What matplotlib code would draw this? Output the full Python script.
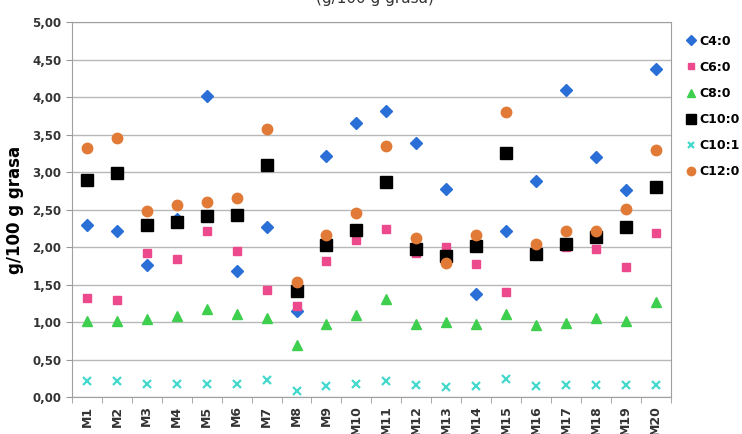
import numpy as np
import matplotlib.pyplot as plt

muestras = ['M%d' % i for i in range(1, 21)]

c4_0 = [2.29, 2.21, 1.76, 2.37, 4.01, 1.68, 2.27, 1.15, 3.22, 3.65,
        3.82, 3.39, 2.77, 1.38, 2.22, 2.88, 4.10, 3.20, 2.76, 4.37]
c6_0 = [1.32, 1.30, 1.92, 1.84, 2.22, 1.95, 1.43, 1.22, 1.81, 2.10,
        2.24, 1.92, 2.00, 1.77, 1.40, 1.95, 2.00, 1.97, 1.73, 2.19]
c8_0 = [1.01, 1.02, 1.04, 1.08, 1.17, 1.11, 1.06, 0.69, 0.98, 1.09,
        1.31, 0.97, 1.00, 0.97, 1.11, 0.96, 0.99, 1.06, 1.02, 1.27]
c10_0 = [2.89, 2.99, 2.29, 2.34, 2.42, 2.43, 3.10, 1.42, 2.03, 2.23,
         2.87, 1.97, 1.88, 2.02, 3.25, 1.91, 2.04, 2.13, 2.27, 2.80]
c10_1 = [0.22, 0.22, 0.18, 0.18, 0.18, 0.18, 0.23, 0.08, 0.15, 0.18,
         0.21, 0.16, 0.14, 0.15, 0.24, 0.15, 0.16, 0.16, 0.16, 0.16]
c12_0 = [3.32, 3.45, 2.48, 2.56, 2.60, 2.65, 3.57, 1.53, 2.16, 2.45,
         3.35, 2.12, 1.79, 2.16, 3.80, 2.04, 2.22, 2.22, 2.51, 3.29]

series = [
    ('C4:0', c4_0, dict(marker='D', color='#2a6fd6', ms=6.5)),
    ('C6:0', c6_0, dict(marker='s', color='#ec4a8c', ms=6)),
    ('C8:0', c8_0, dict(marker='^', color='#3fcf4f', ms=7.5)),
    ('C10:0', c10_0, dict(marker='s', color='#000000', ms=8.5)),
    ('C10:1', c10_1, dict(marker='x', color='#45d8cc', ms=6, mew=1.6)),
    ('C12:0', c12_0, dict(marker='o', color='#e07a36', ms=7.5)),
]

fig = plt.figure(figsize=(7.42, 4.34), dpi=100)
ax = fig.add_axes([0.097, 0.085, 0.807, 0.864])

x = np.arange(1, len(muestras) + 1)
for name, vals, st in series:
    ax.plot(x, vals, linestyle='none', label=name, zorder=3, **st)

ax.set_xlim(0.5, 20.5)
ax.set_ylim(0, 5)
ax.set_yticks(np.arange(0, 5.01, 0.5))
ax.yaxis.set_major_formatter(plt.FuncFormatter(lambda v, p: ('%.2f' % v).replace('.', ',')))
ax.set_xticks(x)
ax.set_xticklabels(muestras, rotation=90, fontweight='bold', fontsize=9, color='#333333')
ax.set_xticks(np.arange(0.5, 21, 1), minor=True)
ax.tick_params(axis='x', which='major', length=0, pad=6)
ax.tick_params(axis='x', which='minor', length=4, color='#999999')
ax.tick_params(axis='y', length=4, color='#999999', labelsize=8.5)
for lbl in ax.get_yticklabels():
    lbl.set_fontweight('bold')
    lbl.set_color('#333333')

ax.grid(axis='y', color='#b8b8b8', linewidth=1)
ax.set_axisbelow(True)
for sp in ax.spines.values():
    sp.set_color('#a0a0a0')

ax.set_ylabel('g/100 g grasa', fontsize=12, fontweight='bold', labelpad=6)

# title sits partly above the top edge
fig.text(0.505, 1.003, '(g/100 g grasa)', ha='center', va='center', fontsize=11, color='#333333')

ax.legend(loc='upper left', bbox_to_anchor=(1.0, 1.0), frameon=False,
          prop={'weight': 'bold', 'size': 9}, handletextpad=0.1, markerscale=0.8,
          handlelength=1.2, labelspacing=1.05, borderaxespad=0.6)

fig.savefig('out.png', dpi=100)
